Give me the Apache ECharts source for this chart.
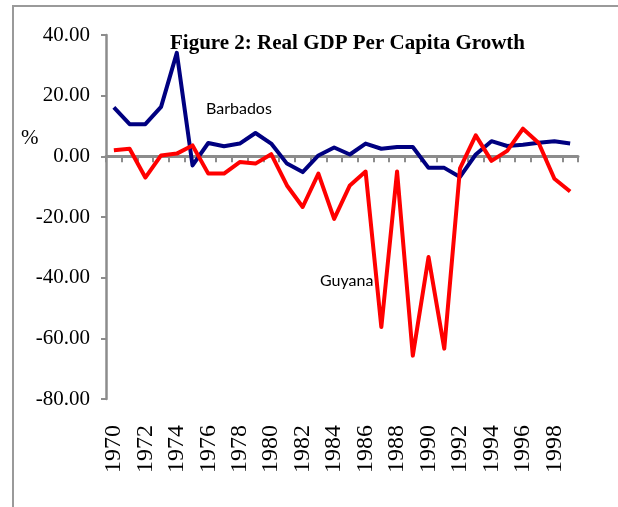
<!DOCTYPE html>
<html>
<head>
<meta charset="utf-8">
<script src="https://cdn.jsdelivr.net/npm/echarts@6/dist/echarts.min.js"></script>
<style>
  html, body { margin: 0; padding: 0; background: #fff; }
  #chart { width: 618px; height: 507px; }
</style>
</head>
<body>
<div id="chart"></div>
<script>
const years = [];
for (let y = 1970; y <= 1999; y++) years.push(String(y));

// values (%)
const barbados = [
  16.1, 10.6, 10.6, 16.3, 34.1, -3.0, 4.4, 3.3, 4.2, 7.7,
  4.2, -2.4, -5.2, 0.3, 2.9, 0.6, 4.2, 2.5, 3.1, 3.1,
  -3.8, -3.8, -6.8, 0.6, 5.0, 3.4, 3.8, 4.5, 5.0, 4.2
];
const guyana = [
  2.0, 2.5, -7.0, 0.3, 0.9, 3.6, -5.7, -5.7, -1.9, -2.4,
  0.7, -9.6, -16.7, -5.7, -20.6, -9.6, -5.0, -56.3, -5.0, -65.7,
  -33.2, -63.4, -4.0, 6.9, -1.5, 1.8, 9.1, 4.4, -7.4, -11.6
];
const yTicks = { min: -80, max: 40, interval: 20 };

const axisGray = "#8c8c8c";
const chart = echarts.init(document.getElementById("chart"));
chart.setOption({
  animation: false,
  backgroundColor: "#fff",
  grid: { left: 106, top: 35, right: 40, bottom: 108 },
  graphic: [
    {
      type: "rect",
      shape: { x: 13, y: 6, width: 700, height: 600 },
      style: { fill: "none", stroke: "#9a9a9a", lineWidth: 2 },
      silent: true
    },
    {
      type: "text",
      left: 170, top: 33,
      style: {
        text: "Figure 2: Real GDP Per Capita Growth",
        font: "bold 21px 'Liberation Serif'",
        fill: "#000"
      }
    },
    {
      type: "text",
      left: 206, top: 101,
      style: { text: "Barbados", font: "16px Lato", fill: "#000" }
    },
    {
      type: "text",
      left: 320, top: 273,
      style: { text: "Guyana", font: "16px Lato", fill: "#000" }
    },
    {
      type: "text",
      left: 21, top: 128,
      style: { text: "%", font: "21px 'Liberation Serif'", fill: "#000" }
    }
  ],
  xAxis: [
    {
      type: "category",
      data: years,
      position: "bottom",
      axisLine: { show: false, onZero: false },
      axisTick: { show: false },
      axisLabel: {
        interval: 1,
        rotate: 90,
        margin: 26,
        fontFamily: "Liberation Serif",
        fontSize: 24,
        color: "#000"
      },
      splitLine: { show: false }
    },
    {
      type: "category",
      data: years,
      position: "top",
      axisLine: { show: true, onZero: true, lineStyle: { color: axisGray, width: 3 } },
      axisTick: { show: true, inside: true, interval: 0, length: 6, lineStyle: { color: axisGray, width: 2 } },
      axisLabel: { show: false },
      splitLine: { show: false }
    }
  ],
  yAxis: {
    type: "value",
    min: yTicks.min,
    max: yTicks.max,
    interval: yTicks.interval,
    axisLine: { show: true, lineStyle: { color: axisGray, width: 2.5 } },
    axisTick: { show: true, length: 5, lineStyle: { color: axisGray, width: 2 } },
    axisLabel: {
      margin: 16,
      fontFamily: "Liberation Serif",
      fontSize: 21,
      color: "#000",
      formatter: v => v.toFixed(2)
    },
    splitLine: { show: false }
  },
  series: [
    {
      name: "Barbados",
      type: "line",
      xAxisIndex: 0,
      data: barbados,
      showSymbol: false,
      lineStyle: { color: "#000080", width: 4, join: "round" },
      itemStyle: { color: "#000080" },
      z: 3
    },
    {
      name: "Guyana",
      type: "line",
      xAxisIndex: 0,
      data: guyana,
      showSymbol: false,
      lineStyle: { color: "#ff0000", width: 4, join: "round" },
      itemStyle: { color: "#ff0000" },
      z: 4
    }
  ]
});
</script>
</body>
</html>
